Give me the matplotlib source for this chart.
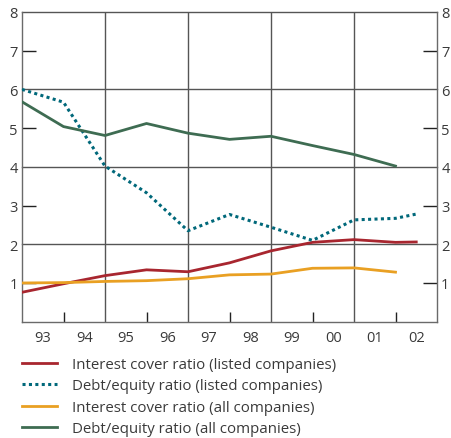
import matplotlib
matplotlib.use("Agg")
import matplotlib.pyplot as plt

plt.rcParams["font.family"] = ["Open Sans", "DejaVu Sans"]

years = ["93", "94", "95", "96", "97", "98", "99", "00", "01", "02"]

# points sit on the boundaries between year slots (0..9), last two series run on to 9.5
x_full = [0, 1, 2, 3, 4, 5, 6, 7, 8, 9, 9.5]
x_short = [0, 1, 2, 3, 4, 5, 6, 7, 8, 9]

icr_listed = [0.76, 0.98, 1.19, 1.34, 1.29, 1.52, 1.83, 2.05, 2.12, 2.05, 2.06]
de_listed = [6.0, 5.67, 4.02, 3.33, 2.35, 2.77, 2.44, 2.10, 2.63, 2.67, 2.78]
icr_all = [1.00, 1.01, 1.04, 1.06, 1.11, 1.21, 1.23, 1.38, 1.39, 1.28]
de_all = [5.68, 5.04, 4.81, 5.12, 4.87, 4.71, 4.79, 4.55, 4.32, 4.02]

labels = ["Interest cover ratio (listed companies)",
          "Debt/equity ratio (listed companies)",
          "Interest cover ratio (all companies)",
          "Debt/equity ratio (all companies)"]

red = "#a8262f"
teal = "#00687a"
orange = "#e9a023"
green = "#3e6c52"
txt = "#3a3a3a"
grid = "#555555"

fig = plt.figure(figsize=(4.52, 4.39), dpi=100)
ax = fig.add_axes([22 / 452, 1 - 322.7 / 439, 415 / 452, 309.7 / 439])

ax.set_xlim(0, 10)
ax.set_ylim(0, 8)

# grid: horizontal at even values, vertical every second year boundary
for y in [2, 4, 6, 8]:
    ax.axhline(y, color=grid, lw=1.0, zorder=1, clip_on=False)
for x in [2, 4, 6, 8]:
    ax.axvline(x, color=grid, lw=1.0, zorder=1)

l1, = ax.plot(x_full, icr_listed, color=red, lw=2.0, zorder=3)
l2, = ax.plot(x_full, de_listed, color=teal, lw=2.2, ls=(0, (1, 1.1)), zorder=3)
l3, = ax.plot(x_short, icr_all, color=orange, lw=2.0, zorder=3)
l4, = ax.plot(x_short, de_all, color=green, lw=2.0, zorder=3)

for s in ["left", "right", "bottom"]:
    ax.spines[s].set_color("#6a6a6a")
    ax.spines[s].set_linewidth(1.0)
ax.spines["top"].set_visible(False)

ax.set_yticks([1, 2, 3, 4, 5, 6, 7, 8])
ax.set_yticklabels(["1", "2", "3", "4", "5", "6", "7", "8"])
ax.tick_params(axis="y", which="major", direction="in", length=10, width=1,
               color="#222222", labelsize=10.5, labelcolor=txt, left=True, right=True,
               labelleft=True, labelright=True, pad=3)
# hide tick marks on even values (they are grid lines there)
for t in ax.yaxis.get_major_ticks():
    if int(t.get_loc()) % 2 == 0:
        t.tick1line.set_visible(False)
        t.tick2line.set_visible(False)

ax.set_xticks([0.5 + i for i in range(10)])
ax.set_xticklabels(years)
ax.set_xticks([1, 3, 5, 7, 9], minor=True)
ax.tick_params(axis="x", which="major", length=0, labelsize=10.5, labelcolor=txt, pad=6)
ax.tick_params(axis="x", which="minor", direction="in", length=7, width=1, color="#222222")

fig.legend([l1, l2, l3, l4], labels, loc="upper left",
           bbox_to_anchor=(16 / 452, 1 - 352 / 439), frameon=False,
           fontsize=10.8, labelcolor=txt, handlelength=2.3, handletextpad=1.0,
           labelspacing=0.43, borderaxespad=0)

fig.savefig("out.png", dpi=100)
